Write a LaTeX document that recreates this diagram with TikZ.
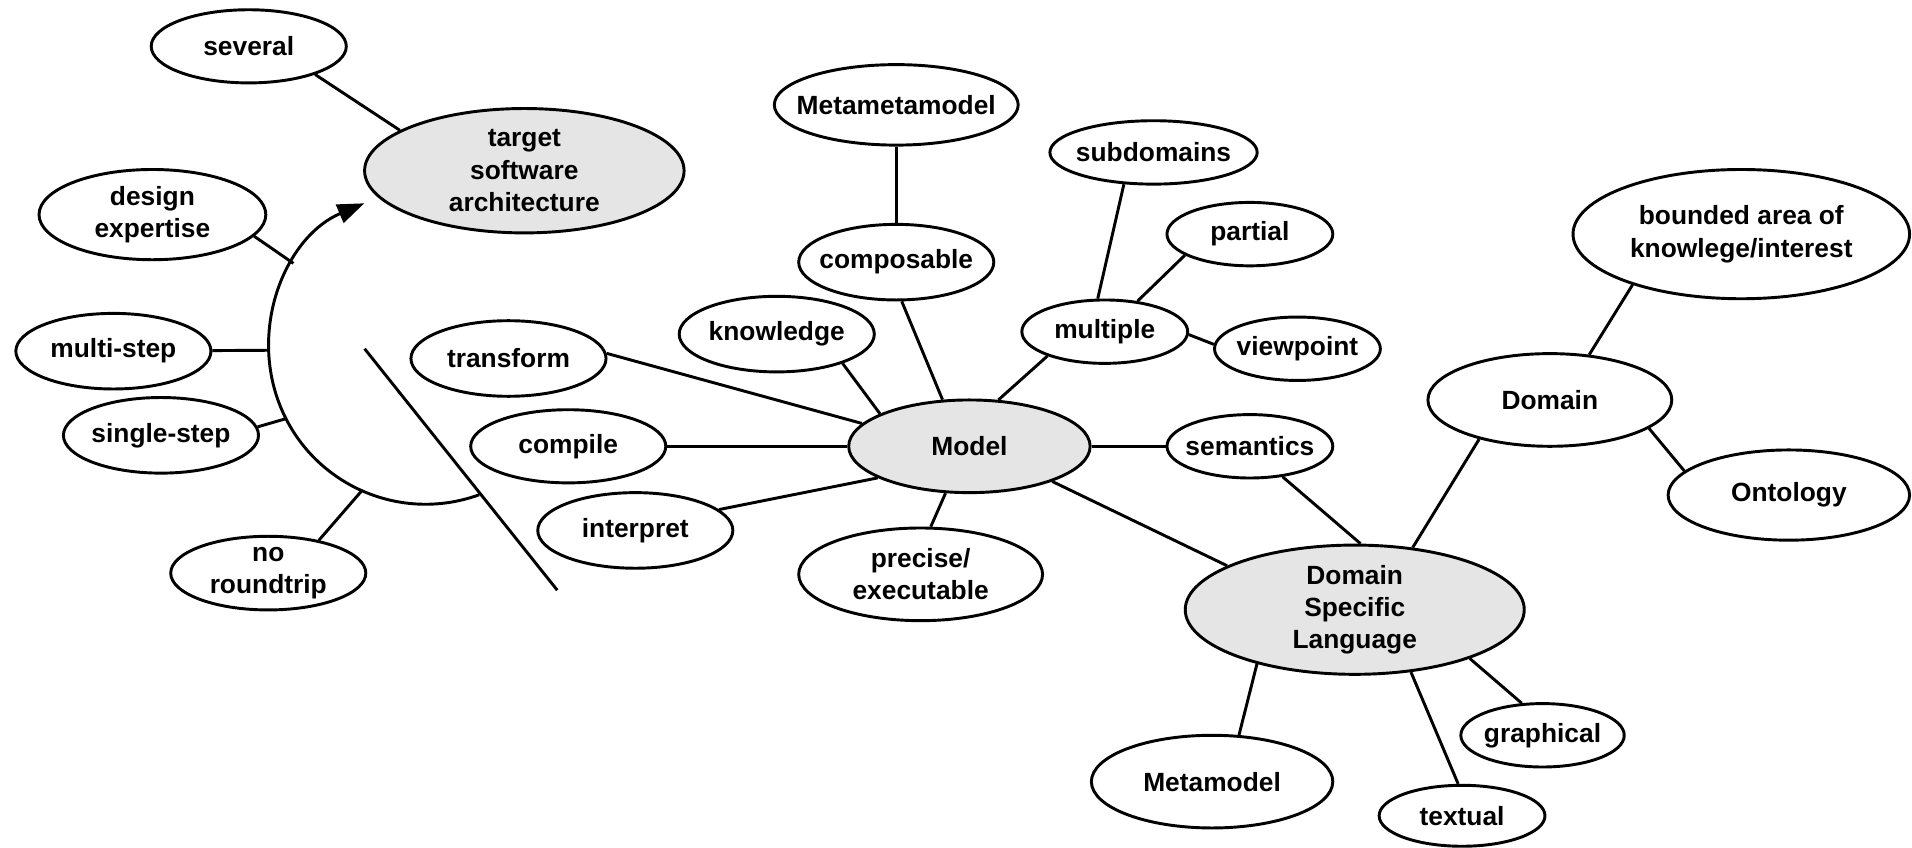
\documentclass[tikz,border=0pt]{standalone}
\usepackage{fontspec}
\setmainfont{Liberation Sans}
\usetikzlibrary{shapes,arrows.meta}

\begin{document}
\begin{tikzpicture}[
    x=0.5pt, y=-0.5pt,
    line width=1.2pt,
    bubble/.style={ellipse, draw, fill=white, align=center, inner xsep=-6pt, inner ysep=0pt, font=\bfseries\fontsize{10.8}{13.3}\selectfont},
    core/.style={bubble, fill=gray!20}
]
\useasboundingbox (0,0) rectangle (1568,695);

% transformation side
\node[bubble, minimum width=80pt, minimum height=30pt] (several) at (204,38) {several};
\node[core, minimum width=131pt, minimum height=51pt] (target) at (430,140) {target\\software\\architecture};
\node[bubble, minimum width=93pt, minimum height=37pt] (design) at (125,176) {design\\expertise};
\node[bubble, minimum width=80pt, minimum height=31pt] (multistep) at (93,288) {multi-step};
\node[bubble, minimum width=80pt, minimum height=31pt] (singlestep) at (132,357) {single-step};
\node[bubble, minimum width=80pt, minimum height=30pt] (noroundtrip) at (220,470) {no\\roundtrip};

% model
\node[core, minimum width=99pt, minimum height=38pt] (model) at (795,366) {Model};
\node[bubble, minimum width=80pt, minimum height=31pt] (transform) at (417,294) {transform};
\node[bubble, minimum width=80pt, minimum height=30pt] (compile) at (466,366) {compile};
\node[bubble, minimum width=80pt, minimum height=31pt] (interpret) at (521,435) {interpret};
\node[bubble, minimum width=80pt, minimum height=31pt] (knowledge) at (637,274) {knowledge};
\node[bubble, minimum width=80pt, minimum height=31pt] (composable) at (735,215) {composable};
\node[bubble, minimum width=100pt, minimum height=33pt] (metametamodel) at (735,86) {Metametamodel};
\node[bubble, minimum width=100pt, minimum height=38pt] (precise) at (755,471) {precise/\\executable};
\node[bubble, minimum width=85pt, minimum height=26pt] (subdomains) at (946,125) {subdomains};
\node[bubble, minimum width=68pt, minimum height=26pt] (partial) at (1025,192) {partial};
\node[bubble, minimum width=68pt, minimum height=26pt] (multiple) at (906,272) {multiple};
\node[bubble, minimum width=68pt, minimum height=26pt] (viewpoint) at (1064,286) {viewpoint};
\node[bubble, minimum width=68pt, minimum height=26pt] (semantics) at (1025,366) {semantics};

% language and domain
\node[core, minimum width=139pt, minimum height=53pt] (dsl) at (1111,500) {Domain\\Specific\\Language};
\node[bubble, minimum width=100pt, minimum height=38pt] (domain) at (1271,328) {Domain};
\node[bubble, minimum width=138pt, minimum height=53pt] (bounded) at (1428,192) {bounded area of\\knowlege/interest};
\node[bubble, minimum width=99pt, minimum height=37pt] (ontology) at (1467,406) {Ontology};
\node[bubble, minimum width=99pt, minimum height=38pt] (metamodel) at (994,641) {Metamodel};
\node[bubble, minimum width=68pt, minimum height=25pt] (textual) at (1199,669) {textual};
\node[bubble, minimum width=67pt, minimum height=26pt] (graphical) at (1265,603) {graphical};

% arc towards the target
\coordinate (arccentre) at (349,285);
\coordinate (arcend) at ([shift={(70:128.5)}]arccentre);
\coordinate (arcnrt) at ([shift={(114:128.5)}]arccentre);
\coordinate (arcsingle) at ([shift={(153:128.5)}]arccentre);
\coordinate (arcmulti) at ([shift={(179:128.5)}]arccentre);
\coordinate (arcdesign) at ([shift={(212.5:128.5)}]arccentre);
\draw[-{Triangle[length=11pt,width=8pt]}] (arcend) arc[start angle=70, end angle=247, radius=128.5];

\coordinate (cuttop) at (299,286);
\coordinate (cutbottom) at (457,484);
\draw (cuttop) -- (cutbottom);

\draw (several.-23) -- (target.162);
\draw (design.-12) -- (arcdesign);
\draw (multistep) -- (arcmulti);
\draw (singlestep.5) -- (arcsingle);
\draw (noroundtrip.33) -- (arcnrt);

\draw (transform.3) -- (model.168);
\draw (compile) -- (model);
\draw (interpret.14) -- (model.199);
\draw (knowledge.-24) -- (model.160);
\draw (composable.-82) -- (model.120);
\draw (metametamodel) -- (composable);
\draw (precise.78) -- (model.-117);
\draw (multiple.-157) -- (model.58);
\draw (subdomains.227) -- (multiple.102);
\draw (partial.198) -- (multiple.43);
\draw (multiple.-2) -- (viewpoint.177);
\draw (model) -- (semantics);
\draw (model.-23) -- (dsl.161);

\draw (semantics.-43) -- (dsl.85);
\draw (domain.209) -- (dsl.47);
\draw (domain.49) -- (bounded.205);
\draw (domain.-16) -- (ontology.167);
\draw (dsl.209) -- (metamodel.60);
\draw (dsl.-48) -- (textual.97);
\draw (dsl.-23) -- (graphical.123);

\end{tikzpicture}
\end{document}
